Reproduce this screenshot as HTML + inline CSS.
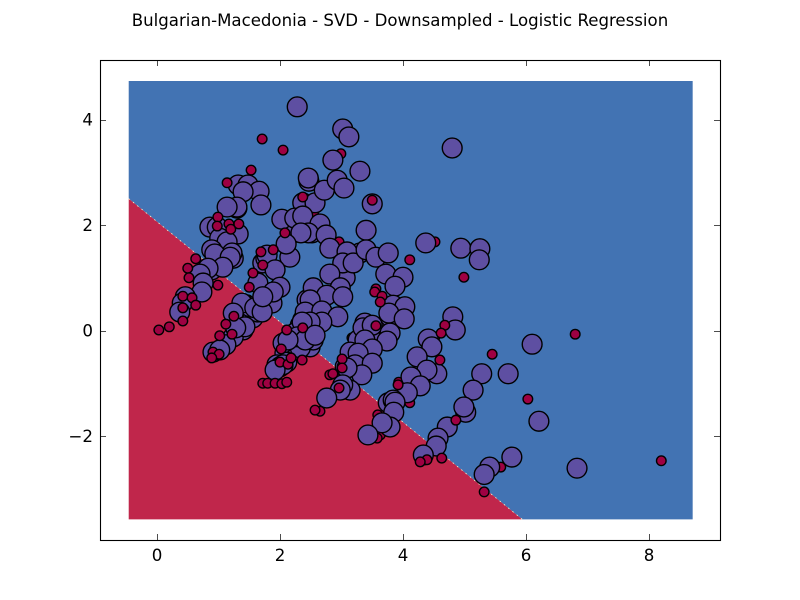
<!DOCTYPE html>
<html>
<head>
<meta charset="utf-8">
<title>Bulgarian-Macedonia - SVD - Downsampled - Logistic Regression</title>
<style>
html,body{margin:0;padding:0;background:#fff;width:800px;height:600px;overflow:hidden}
svg{display:block}
text{font-family:"DejaVu Sans","Liberation Sans",sans-serif;fill:#000}
</style>
</head>
<body>
<svg id="chart" width="800" height="600" viewBox="0 0 800 600" xmlns="http://www.w3.org/2000/svg">
<rect x="0" y="0" width="800" height="600" fill="#fff"/>
<text x="400" y="26" font-size="16.6" text-anchor="middle">Bulgarian-Macedonia - SVD - Downsampled - Logistic Regression</text>
<g id="regions"></g>
<g id="marks"></g>
<rect x="100.5" y="60.5" width="620" height="480" fill="none" stroke="#000" stroke-width="1.1"/>
<g id="ticks"></g>
</svg>
<script>
const xTickValues = [0, 2, 4, 6, 8];
const yTickValues = [-2, 0, 2, 4];

const regionXRange = [-0.46, 8.71];
const regionYRange = [-3.58, 4.73];
const boundaryX = [-0.46, 5.94];
const boundaryY = [2.5, -3.58];

const redBackX = [2.99,4.52,5.59,2.55,4.11,3.59,3.63,3.58,4.52,3.17,1.48,0.88,3.93,2.96,2.81];
const redBackY = [3.35,1.68,-2.59,2.19,-1.37,-1.60,-1.98,-2.04,-0.12,-0.14,0.58,1.62,-0.98,1.68,-0.84];

const purpleX = [1.40,1.24,1.56,1.51,1.64,1.87,2.08,2.05,1.95,2.11,2.49,2.33,2.54,2.52,2.37,2.44,0.86,1.30,1.72,0.89,1.24,2.52,3.30,3.06,2.57,2.21,2.33,2.52,2.24,3.27,3.25,3.30,3.06,3.63,3.43,3.54,3.71,3.38,4.24,3.79,
2.28,1.32,1.48,1.66,1.40,1.30,1.69,1.14,0.98,1.32,1.02,1.14,0.89,1.22,0.94,1.19,1.07,0.83,0.70,0.75,0.73,0.46,0.41,0.37,
1.77,2.16,1.79,1.92,1.64,2.00,1.89,1.38,1.24,1.59,1.71,1.72,1.43,1.28,1.12,0.91,1.02,
2.47,2.46,2.37,2.57,2.72,2.86,3.02,3.12,3.30,2.93,3.04,3.50,2.03,2.24,2.37,2.65,2.46,2.34,2.10,2.75,2.81,3.40,3.09,3.02,3.19,3.40,3.56,3.76,2.81,2.98,2.54,2.76,3.02,2.49,2.41,2.68,2.94,2.68,2.49,2.36,2.28,2.41,2.13,2.57,2.00,2.05,1.92,
3.72,4.00,3.87,3.84,4.03,3.77,4.02,3.35,3.50,3.38,3.79,3.74,3.50,3.14,3.27,3.22,3.50,3.33,3.09,3.14,3.02,2.98,2.76,
4.81,4.85,4.41,4.47,4.23,4.55,4.39,4.13,4.28,4.07,3.76,3.84,3.87,3.85,3.79,3.66,3.43,
5.28,5.14,5.02,4.99,4.72,4.57,4.54,4.33,
4.80,4.37,4.94,5.25,5.24,6.10,5.71,6.21,5.77,5.41,5.32,6.83];
const purpleY = [0.01,-0.12,0.24,0.45,0.35,0.52,-0.43,-0.24,-0.65,-0.60,-0.31,-0.33,-0.18,0.39,0.20,0.58,1.96,2.32,1.28,1.15,1.37,1.85,1.47,1.00,0.73,1.85,0.10,0.05,-0.05,-0.18,-0.50,-0.69,-0.69,-0.12,-0.03,-0.03,0.10,0.14,-1.03,0.26,
4.24,2.76,2.76,2.64,2.63,2.34,2.38,2.34,1.96,1.83,1.75,1.68,1.53,1.47,1.45,1.39,1.20,1.18,1.07,0.90,0.73,0.64,0.52,0.35,
1.37,1.39,1.43,1.15,0.90,0.82,0.73,0.52,0.33,0.43,0.35,0.64,0.07,0.05,-0.27,-0.41,-0.37,
2.83,2.89,2.42,2.42,2.66,3.23,3.82,3.67,3.02,2.85,2.70,2.40,2.11,2.13,2.17,2.02,1.85,1.85,1.64,1.81,1.56,1.90,1.49,1.28,1.28,1.53,1.39,1.47,1.07,0.81,0.81,0.67,0.64,0.58,0.35,0.37,0.26,0.16,0.16,0.16,-0.12,-0.18,-0.18,-0.09,-0.69,-0.65,-0.75,
1.07,1.01,0.84,0.48,0.45,0.33,0.22,0.05,0.10,-0.18,-0.05,-0.20,-0.35,-0.41,-0.43,-0.65,-0.62,-0.84,-0.71,-1.13,-1.03,-1.13,-1.28,
0.26,0.01,-0.16,-0.31,-0.50,-0.82,-0.75,-0.88,-1.05,-1.18,-1.37,-1.32,-1.36,-1.55,-1.83,-1.75,-1.98,
-0.82,-1.13,-1.55,-1.45,-1.83,-2.04,-2.19,-2.36,
3.46,1.66,1.56,1.55,1.34,-0.26,-0.82,-1.72,-2.40,-2.59,-2.73,-2.61];

const redFrontX = [0.91,1.71,2.05,1.53,1.14,2.37,3.50,0.99,0.98,1.17,1.20,1.33,2.08,1.89,1.69,0.63,0.50,0.52,0.99,0.42,0.57,0.63,0.42,0.42,0.20,0.03,1.72,1.56,1.50,1.25,1.12,1.22,1.02,1.01,0.89,2.37,2.11,2.02,2.36,2.00,2.13,2.18,1.72,1.80,1.92,2.03,2.11,2.65,2.57,4.11,4.99,3.56,3.54,3.66,3.63,3.56,3.01,3.01,2.86,2.96,4.68,4.62,4.60,3.92,4.86,4.63,4.39,4.28,5.32,5.45,6.03,6.80,8.20];
const redFrontY = [-0.41,3.63,3.42,3.04,2.80,2.53,2.47,2.15,1.98,2.02,1.92,2.02,1.85,1.53,1.49,1.36,1.18,1.00,0.86,0.65,0.62,0.48,0.43,0.18,0.07,0.01,1.24,1.09,0.82,0.27,0.12,-0.07,-0.10,-0.45,-0.52,0.05,0.01,-0.35,-0.56,-0.60,-0.64,-0.52,-1.00,-1.00,-1.00,-1.01,-0.98,-1.53,-1.51,1.34,1.01,0.79,0.73,0.65,0.54,0.09,-0.54,-0.71,-0.82,-1.09,0.10,-0.05,-0.56,-1.03,-1.70,-2.42,-2.45,-2.49,-3.06,-0.45,-1.30,-0.07,-2.47];

const NS = 'http://www.w3.org/2000/svg';
const axisX = v => 157 + v * 61.5;
const axisY = v => 330.5 - v * 52.75;

const regions = document.getElementById('regions');
const marks = document.getElementById('marks');
const ticks = document.getElementById('ticks');

function makePolygon(points, fill) {
  const p = document.createElementNS(NS, 'polygon');
  p.setAttribute('points', points.map(q => axisX(q[0]).toFixed(2) + ',' + axisY(q[1]).toFixed(2)).join(' '));
  p.setAttribute('fill', fill);
  return p;
}

const bluePoly = makePolygon([
  [regionXRange[0], regionYRange[1]],
  [regionXRange[1], regionYRange[1]],
  [regionXRange[1], regionYRange[0]],
  [boundaryX[1], boundaryY[1]],
  [boundaryX[0], boundaryY[0]]
], '#4273b3');


regions.appendChild(bluePoly);

const redPoly = makePolygon([
  [boundaryX[0], boundaryY[0]],
  [boundaryX[1], boundaryY[1]],
  [regionXRange[0], regionYRange[0]]
], '#c0264b');


regions.appendChild(redPoly);

const seam = document.createElementNS(NS, 'line');


seam.setAttribute('x1', axisX(boundaryX[0]));
seam.setAttribute('y1', axisY(boundaryY[0]));
seam.setAttribute('x2', axisX(boundaryX[1]));
seam.setAttribute('y2', axisY(boundaryY[1]));
seam.setAttribute('stroke', '#fff6c8');
seam.setAttribute('stroke-width', '0.8');
seam.setAttribute('stroke-dasharray', '1.5 4');
regions.appendChild(seam);

function drawSeries(xs, ys, radius, fill, name) {
  xs.forEach((x, i) => {
    const c = document.createElementNS(NS, 'circle');
    
    
    c.setAttribute('cx', axisX(x).toFixed(2));
    c.setAttribute('cy', axisY(ys[i]).toFixed(2));
    c.setAttribute('r', radius);
    c.setAttribute('fill', fill);
    c.setAttribute('stroke', '#000');
    c.setAttribute('stroke-width', '1.39');
    marks.appendChild(c);
  });
}
drawSeries(redBackX, redBackY, 4.8, '#9e0142', 'red-class-point');
drawSeries(purpleX, purpleY, 9.9, '#5e4fa2', 'purple-class-point');
drawSeries(redFrontX, redFrontY, 4.8, '#9e0142', 'red-class-point');

function tickLine(x1, y1, x2, y2) {
  const l = document.createElementNS(NS, 'line');
  
  
  l.setAttribute('x1', x1);
  l.setAttribute('y1', y1);
  l.setAttribute('x2', x2);
  l.setAttribute('y2', y2);
  l.setAttribute('stroke', '#000');
  l.setAttribute('stroke-width', '0.7');
  ticks.appendChild(l);
}
function tickLabel(x, y, anchor, str) {
  const t = document.createElementNS(NS, 'text');
  
  
  t.setAttribute('x', x);
  t.setAttribute('y', y);
  t.setAttribute('font-size', '16.67');
  t.setAttribute('text-anchor', anchor);
  t.textContent = str;
  ticks.appendChild(t);
}
xTickValues.forEach(v => {
  const px = Math.round(axisX(v)) + 0.5;
  tickLine(px, 540, px, 534);
  tickLine(px, 60, px, 66);
  tickLabel(axisX(v), 561, 'middle', String(v));
});
yTickValues.forEach(v => {
  const py = Math.round(axisY(v)) + 0.5;
  tickLine(100, py, 106, py);
  tickLine(720, py, 714, py);
  tickLabel(93, axisY(v) + 6, 'end', String(v).replace('-', '\u2212'));
});
</script>
</body>
</html>
